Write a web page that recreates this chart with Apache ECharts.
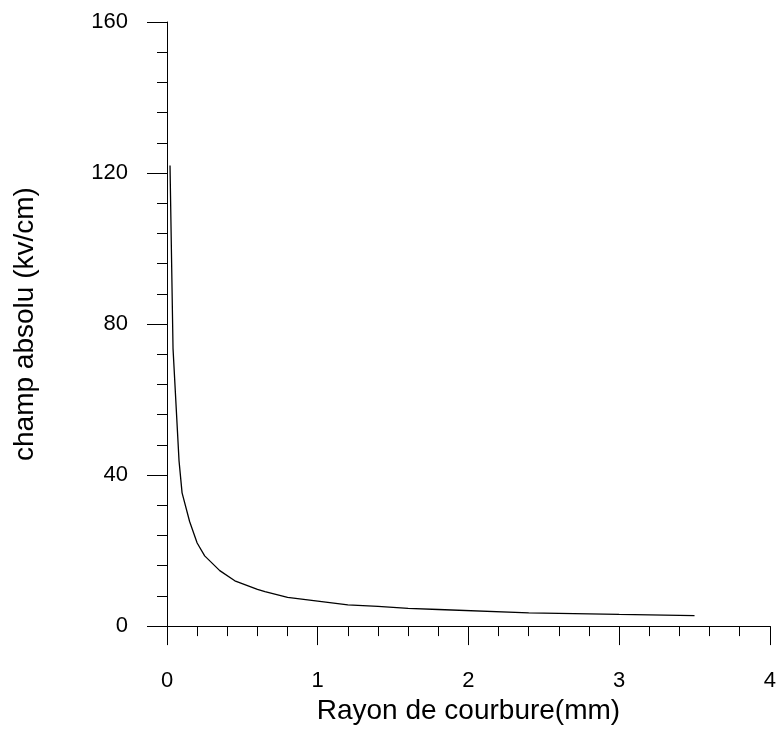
<!DOCTYPE html>
<html>
<head>
<meta charset="utf-8">
<script src="https://cdn.jsdelivr.net/npm/echarts@6/dist/echarts.min.js"></script>
<style>
html,body{margin:0;padding:0;background:#fff;}
#chart{width:779px;height:730px;}
</style>
</head>
<body>
<div id="chart"></div>
<script>
// Radius of curvature (mm)
var rayon = [0.02, 0.04, 0.08, 0.10, 0.15, 0.20, 0.25, 0.35, 0.45, 0.60, 0.65, 0.80, 1.00, 1.20, 1.40, 1.60, 1.80, 2.40, 3.00, 3.50];
// Absolute field (kV/cm)
var champ = [122, 73.5, 43.7, 35.3, 27.7, 22.0, 18.6, 14.7, 12.0, 9.7, 9.1, 7.6, 6.6, 5.6, 5.2, 4.7, 4.4, 3.5, 3.1, 2.8];
var xTicks = [0, 1, 2, 3, 4];
var yTicks = [0, 40, 80, 120, 160];

var pts = rayon.map(function (r, i) { return [r, champ[i]]; });
var font = 'Liberation Sans, Arial, sans-serif';

var chart = echarts.init(document.getElementById('chart'), null, {renderer: 'canvas'});
chart.setOption({
  animation: false,
  backgroundColor: '#ffffff',
  grid: {left: 167, top: 22, right: 6, bottom: 101, containLabel: false},
  xAxis: {
    type: 'value',
    min: xTicks[0], max: xTicks[xTicks.length - 1], interval: 1,
    name: 'Rayon de courbure(mm)',
    nameLocation: 'middle',
    nameGap: 66,
    nameTextStyle: {fontFamily: font, fontSize: 28, color: '#000'},
    axisLine: {show: true, onZero: false, lineStyle: {color: '#000', width: 1}},
    axisTick: {show: true, inside: false, length: 19, lineStyle: {color: '#000', width: 1}},
    minorTick: {show: true, splitNumber: 5, length: 10, lineStyle: {color: '#000', width: 1}},
    axisLabel: {fontFamily: font, fontSize: 22, color: '#000', margin: 44},
    splitLine: {show: false}
  },
  yAxis: {
    type: 'value',
    min: yTicks[0], max: yTicks[yTicks.length - 1], interval: 40,
    name: 'champ absolu (kv/cm)',
    nameLocation: 'middle',
    nameGap: 128,
    nameRotate: 90,
    nameTextStyle: {fontFamily: font, fontSize: 28, color: '#000'},
    axisLine: {show: true, onZero: false, lineStyle: {color: '#000', width: 1}},
    axisTick: {show: true, inside: false, length: 20, lineStyle: {color: '#000', width: 1}},
    minorTick: {show: true, splitNumber: 5, length: 10, lineStyle: {color: '#000', width: 1}},
    axisLabel: {fontFamily: font, fontSize: 22, color: '#000', margin: 39},
    splitLine: {show: false}
  },
  series: [{
    type: 'line',
    data: pts,
    showSymbol: false,
    smooth: false,
    lineStyle: {color: '#000', width: 1.3},
    itemStyle: {color: '#000'}
  }]
});
</script>
</body>
</html>
